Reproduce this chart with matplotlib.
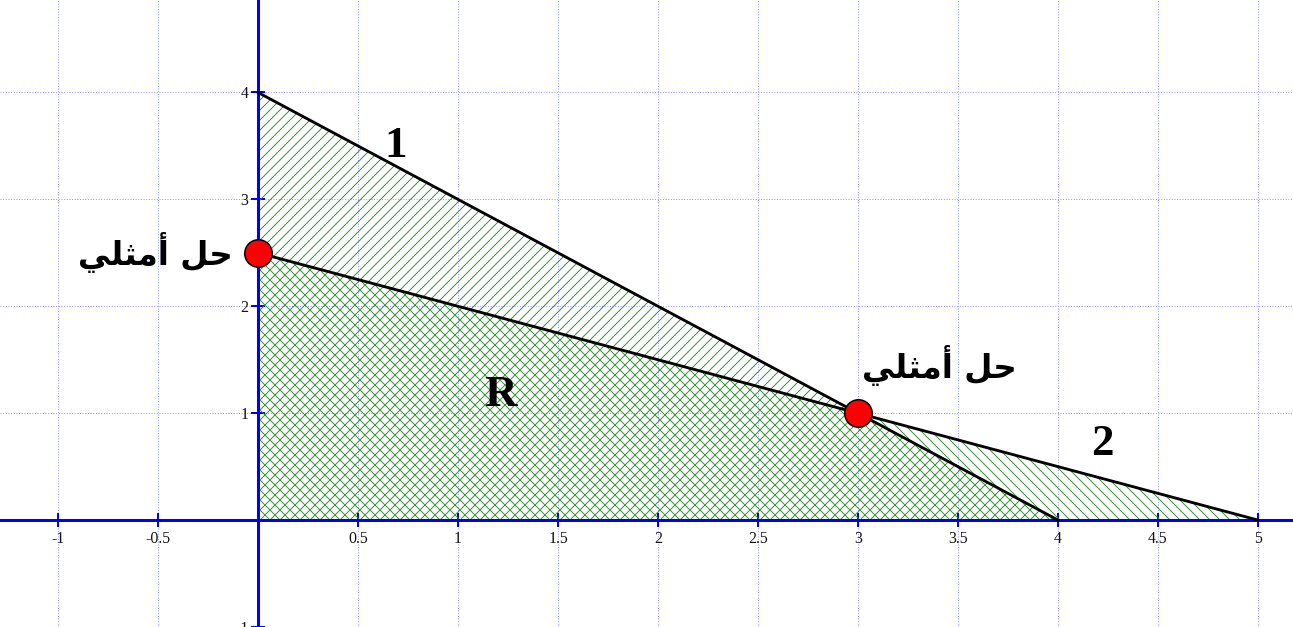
import matplotlib
matplotlib.use("Agg")
import matplotlib.pyplot as plt
from matplotlib.patches import Polygon

# constraint lines
line1_x = [0, 4]
line1_y = [4, 0]
line2_x = [0, 5]
line2_y = [2.5, 0]

# feasible half-planes (clipped to the first quadrant)
region1 = [(0, 0), (4, 0), (0, 4)]
region2 = [(0, 0), (5, 0), (0, 2.5)]

# optimal corner points
opt_x = [0, 3]
opt_y = [2.5, 1]

xticks = [-1, -0.5, 0.5, 1, 1.5, 2, 2.5, 3, 3.5, 4, 4.5, 5]
xticklabels = ["-1", "-0.5", "0.5", "1", "1.5", "2", "2.5", "3", "3.5", "4", "4.5", "5"]
yticks = [-1, 1, 2, 3, 4]
yticklabels = ["-1", "1", "2", "3", "4"]

label_ar = "حل أمثلي"
# same words in presentation forms, visual order (matplotlib does no Arabic shaping)
label_ar_vis = "\uFEF2\uFEE0\uFE9C\uFEE3\uFE83 \uFEDE\uFEA3"

DPI = 60
plt.rcParams["hatch.linewidth"] = 1.1
fig = plt.figure(figsize=(1293 / DPI, 627 / DPI), dpi=DPI)
ax = fig.add_axes([0, 0, 1, 1])
ax.set_xlim(-1.29, 5.175)
ax.set_ylim(-0.967, 4.865)

green = "#2a8c2a"
ax.add_patch(Polygon(region1, closed=True, facecolor="none", edgecolor=green,
                     hatch="//", lw=1.5, zorder=1))
ax.add_patch(Polygon(region2, closed=True, facecolor="none", edgecolor=green,
                     hatch="\\\\", lw=1.5, zorder=1))

ax.plot(line1_x, line1_y, color="black", lw=3.4, zorder=3)
ax.plot(line2_x, line2_y, color="black", lw=3.4, zorder=3)

# axes through the origin
for side in ["top", "right"]:
    ax.spines[side].set_visible(False)
ax.spines["left"].set_position(("data", 0))
ax.spines["bottom"].set_position(("data", 0))
for side in ["left", "bottom"]:
    ax.spines[side].set_color("#0000ff")
    ax.spines[side].set_linewidth(3.6)
    ax.spines[side].set_zorder(2.5)

ax.set_xticks(xticks)
ax.set_xticklabels(xticklabels)
ax.set_yticks(yticks)
ax.set_yticklabels(yticklabels)
ax.tick_params(direction="inout", length=17, width=2.4, color="#0000ff",
               labelsize=19, labelcolor="#111111")
ax.tick_params(axis="x", pad=4.5)
ax.tick_params(axis="y", pad=3)
for lab in ax.get_xticklabels() + ax.get_yticklabels():
    lab.set_fontfamily("Liberation Serif")
ax.grid(True, color="#9a9aff", linestyle=":", lw=1.2, zorder=0)
ax.set_axisbelow(True)

ax.plot(opt_x, opt_y, "o", ms=33, mfc="#ff0000", mec="black", mew=1.8, zorder=5)

ar_font = dict(family=["DejaVu Sans"], fontweight="bold", fontsize=39,
               color="black", ha="center", va="center")
ax.text(-0.515, 2.5, label_ar_vis, **ar_font)
ax.text(3.405, 1.45, label_ar_vis, **ar_font)

num_font = dict(family=["Liberation Serif"], fontweight="bold", fontsize=54,
                color="black", ha="center", va="center")
ax.text(0.69, 3.5, "1", **num_font)
ax.text(4.22, 0.71, "2", **num_font)
ax.text(1.21, 1.17, "R", **num_font)

fig.savefig("out.png", dpi=DPI)
